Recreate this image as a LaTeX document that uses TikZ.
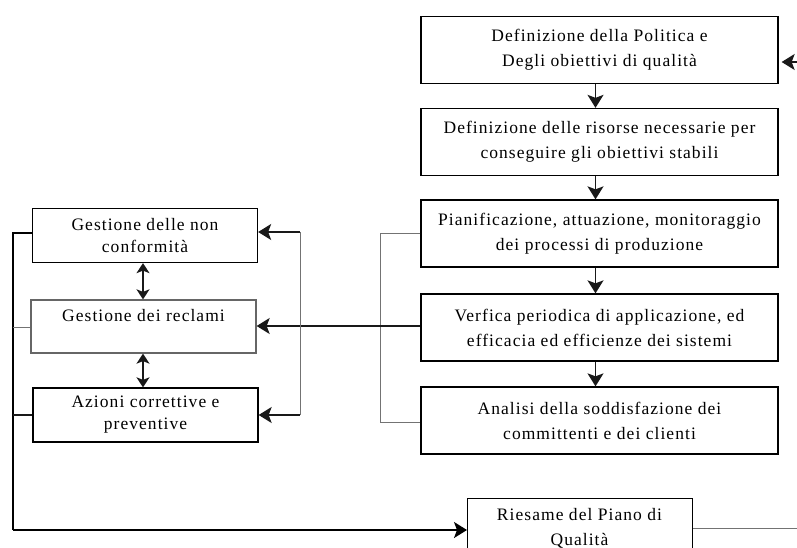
\documentclass[tikz,border=0pt]{standalone}
\usepackage{fontspec}
\setmainfont{Liberation Serif}[LetterSpace=6]
\usetikzlibrary{arrows.meta}
\begin{document}
\begin{tikzpicture}[x=1pt,y=-1pt,
  txt/.style={font=\fontsize{17.5}{25}\selectfont, align=center},
  rbox/.style={txt, draw=black, line width=1.3pt, inner sep=0pt, minimum width=357pt, minimum height=67pt},
  lbox/.style={txt, draw=black, line width=1.3pt, inner sep=0pt, minimum width=225pt, minimum height=54pt, font=\fontsize{17.5}{22}\selectfont},
  conn/.style={line width=1.5pt, draw=black!90},
  thin/.style={line width=1pt, draw=black!55},
  arr/.style={conn, -{Stealth[length=13pt,width=16pt,inset=3pt]}},
  darr/.style={conn, {Stealth[length=10pt,width=13pt,inset=2.5pt]}-{Stealth[length=10pt,width=13pt,inset=2.5pt]}}
]
\clip (0,0) rectangle (797,548);
\fill[white] (0,0) rectangle (797,548);

% right column
\node[rbox] (b1) at (599.5,50) {Definizione della Politica e\\Degli obiettivi di qualità};
\node[rbox] (b2) at (599.5,142) {Definizione delle risorse necessarie per\\conseguire gli obiettivi stabili};
\node[rbox] (b3) at (599.5,233.5) {Pianificazione, attuazione, monitoraggio\\dei processi di produzione};
\node[rbox] (b4) at (599.5,327.5) {Verfica periodica di applicazione, ed\\efficacia ed efficienze dei sistemi};
\node[rbox] (b5) at (599.5,420.5) {Analisi della soddisfazione dei\\committenti e dei clienti};

% left column
\node[lbox] (la) at (145,235.5) {Gestione delle non\\conformità};
\node[lbox, draw=black!60, minimum height=53pt] (lb) at (143.5,326.5) {Gestione dei reclami\\\mbox{}};
\node[lbox] (lc) at (145.5,415) {Azioni correttive e\\preventive};

% bottom box (cut by the picture edge)
\node[rbox, minimum width=225pt, minimum height=72pt, anchor=north west] (rs) at (467,498) {};
\node[txt] (rst) at (579.5,528.5) {Riesame del Piano di\\Qualità};

% coordinates
\coordinate (rin) at (797,62);
\coordinate (rout) at (797,528);
\coordinate (xr) at (380,233.5);
\coordinate (xr2) at (380,326);
\coordinate (xr3) at (380,422);
\coordinate (m1) at (300,232);
\coordinate (m2) at (300,415);
\coordinate (l1) at (13,233);
\coordinate (l2) at (13,327);
\coordinate (l3) at (13,415);
\coordinate (l4) at (13,530);

% vertical flow arrows
\draw[arr] ([xshift=-4pt]b1.south) -- ([xshift=-4pt]b2.north);
\draw[arr] ([xshift=-4pt]b2.south) -- ([xshift=-4pt]b3.north);
\draw[arr] ([xshift=-4pt]b3.south) -- ([xshift=-4pt]b4.north);
\draw[arr] ([xshift=-4pt]b4.south) -- ([xshift=-4pt]b5.north);

% input arrow at top right
\draw[arr] (rin) -- ([xshift=3pt]b1.east |- rin);

% bracket joining boxes 3-5
\draw[thin] (b3.west |- xr) -- (xr) -- (xr3) -- (b5.west |- xr3);
\draw[conn] (b4.west |- xr2) -- (xr2);
\draw[arr] (xr2) -- (lb.east |- xr2);

% right bracket of the left column
\draw[thin] (m1) -- (m2);
\draw[arr] (m1) -- (la.east |- m1);
\draw[arr] (m2) -- (lc.east |- m2);

% double arrows
\draw[darr] ([xshift=-2pt]la.south) -- ([xshift=-0.5pt]lb.north);
\draw[darr] ([xshift=-0.5pt]lb.south) -- ([xshift=-2.5pt]lc.north);

% left bracket to bottom box
\draw[conn, draw=black] (la.west |- l1) -- (l1) -- (l4);
\draw[thin] (lb.west |- l2) -- (l2);
\draw[conn] (lc.west |- l3) -- (l3);
\draw[arr, draw=black] (l4) -- (rs.west |- l4);

% output line
\draw[thin] (rs.east |- rout) -- (rout);
\end{tikzpicture}
\end{document}
